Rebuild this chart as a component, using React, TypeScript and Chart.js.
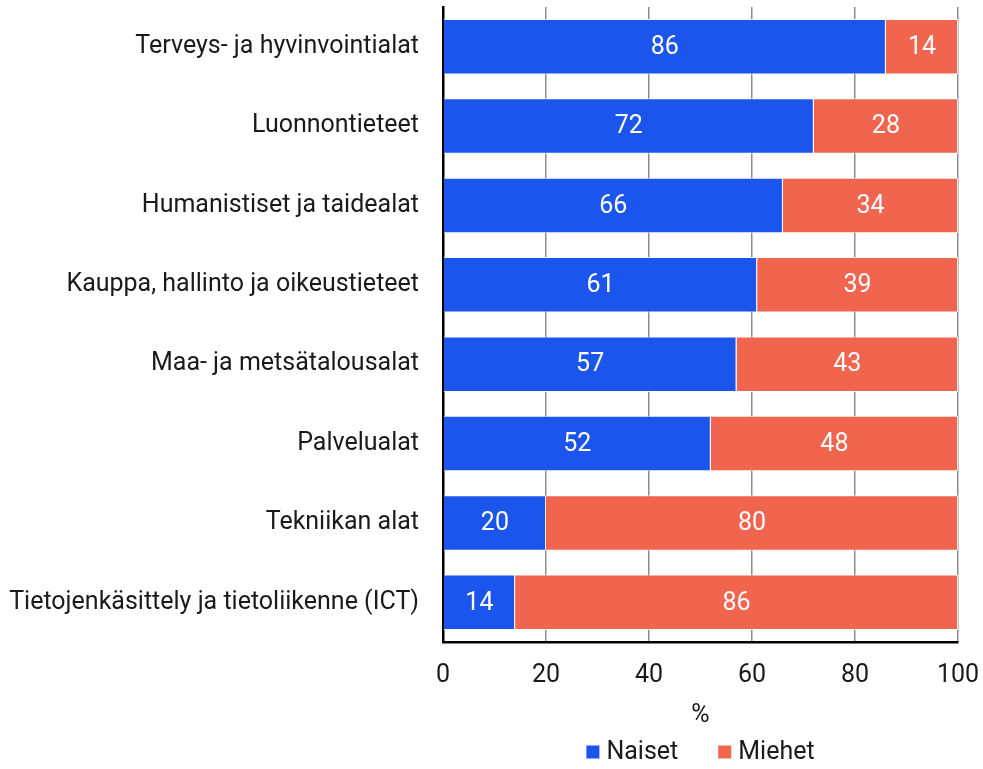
import React, { useEffect, useRef } from "react";
import { Chart, registerables } from "chart.js";

Chart.register(...registerables);

const categories = [
  "Terveys- ja hyvinvointialat",
  "Luonnontieteet",
  "Humanistiset ja taidealat",
  "Kauppa, hallinto ja oikeustieteet",
  "Maa- ja metsätalousalat",
  "Palvelualat",
  "Tekniikan alat",
  "Tietojenkäsittely ja tietoliikenne (ICT)",
];
const naiset = [86, 72, 66, 61, 57, 52, 20, 14];
const miehet = [14, 28, 34, 39, 43, 48, 80, 86];
const xTicks = [0, 20, 40, 60, 80, 100];
const colors = ["#1c55eb", "#f1654f"];

const FONT = "Roboto, 'DejaVu Sans', sans-serif";
const FS = 25;

const labelPlugin = {
  id: "barLabels",
  afterDatasetsDraw(chart: any) {
    const ctx = chart.ctx;
    ctx.save();
    ctx.fillStyle = "#ffffff";
    ctx.font = `${FS}px ${FONT}`;
    ctx.textAlign = "center";
    ctx.textBaseline = "middle";
    chart.data.datasets.forEach((ds: any, di: number) => {
      const meta = chart.getDatasetMeta(di);
      meta.data.forEach((bar: any, i: number) => {
        const { x, base, y } = bar.getProps(["x", "base", "y"], true);
        ctx.fillText(String(ds.data[i]), (x + base) / 2, y + 1);
      });
    });
    ctx.restore();
  },
};

const legendPlugin = {
  id: "customLegend",
  afterDraw(chart: any) {
    const ctx = chart.ctx;
    const ca = chart.chartArea;
    ctx.save();
    ctx.font = `${FS}px ${FONT}`;
    ctx.textBaseline = "middle";
    const items = chart.data.datasets.map((d: any) => d.label);
    const box = 13;
    const gapBoxText = 7;
    const gapItems = 40;
    const widths = items.map((t: string) => box + gapBoxText + ctx.measureText(t).width);
    const total = widths.reduce((a: number, b: number) => a + b, 0) + gapItems * (items.length - 1);
    let x = (ca.left + ca.right) / 2 - total / 2;
    const y = 752;
    items.forEach((t: string, i: number) => {
      ctx.fillStyle = colors[i];
      ctx.fillRect(x, y - box / 2, box, box);
      ctx.fillStyle = "#1a1a1a";
      ctx.textAlign = "left";
      ctx.fillText(t, x + box + gapBoxText, y + 1);
      x += widths[i] + gapItems;
    });
    ctx.restore();
  },
};

export default function App() {
  const ref = useRef<HTMLCanvasElement>(null);
  useEffect(() => {
    document.body.style.margin = "0";
    const chart = new Chart(ref.current!, {
      type: "bar",
      data: {
        labels: categories,
        datasets: [
          {
            label: "Naiset",
            data: naiset,
            backgroundColor: colors[0],
            borderColor: "rgba(255,255,255,0.8)",
            borderWidth: 1,
            barPercentage: 0.7,
            categoryPercentage: 1,
          },
          {
            label: "Miehet",
            data: miehet,
            backgroundColor: colors[1],
            borderColor: "rgba(255,255,255,0.8)",
            borderWidth: 1,
            barPercentage: 0.7,
            categoryPercentage: 1,
          },
        ],
      },
      options: {
        indexAxis: "y",
        animation: false,
        responsive: false,
        maintainAspectRatio: false,
        layout: { padding: { top: 7, right: 25, left: 8, bottom: 38 } },
        scales: {
          x: {
            stacked: true,
            min: 0,
            max: 100,
            afterBuildTicks: (axis: any) => {
              axis.ticks = xTicks.map((v) => ({ value: v }));
            },
            afterFit: (axis: any) => {
              axis.paddingLeft = 0;
              axis.paddingRight = 0;
              axis.height = 89;
            },
            grid: {
              color: "#8c8c8c",
              lineWidth: 1.5,
              drawTicks: false,
            },
            border: { color: "#000000", width: 2.5 },
            ticks: {
              color: "#1a1a1a",
              font: { family: FONT, size: FS },
              padding: 19,
              maxRotation: 0,
            },
            title: {
              display: true,
              text: "%",
              color: "#1a1a1a",
              font: { family: FONT, size: FS },
              padding: { top: 11, bottom: 0 },
            },
          },
          y: {
            stacked: true,
            afterFit: (axis: any) => {
              axis.paddingTop = 0;
              axis.paddingBottom = 0;
              axis.width = 435;
            },
            grid: { display: false, drawTicks: false },
            border: { color: "#000000", width: 2.5 },
            ticks: {
              color: "#1a1a1a",
              font: { family: FONT, size: FS },
              padding: 24,
            },
          },
        },
        plugins: {
          legend: { display: false },
          tooltip: { enabled: false },
        },
      },
      plugins: [labelPlugin, legendPlugin],
    } as any);
    return () => chart.destroy();
  }, []);
  return (
    <div style={{ width: 983, height: 769 }}>
      <canvas ref={ref} width={983} height={769} style={{ display: "block" }} />
    </div>
  );
}
